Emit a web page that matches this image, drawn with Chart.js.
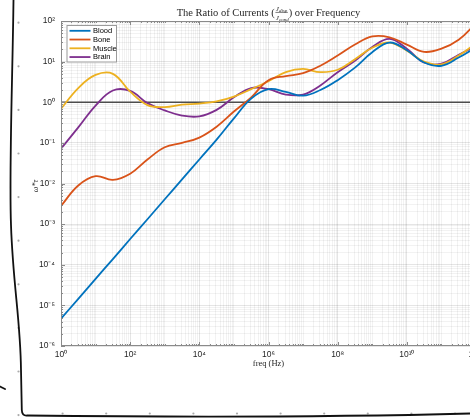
<!DOCTYPE html>
<html>
<head>
<meta charset="utf-8">
<script src="https://cdn.jsdelivr.net/npm/chart.js@4.4.1/dist/chart.umd.min.js"></script>
<style>
    html, body { margin: 0; padding: 0; background: #fff; overflow: hidden; }
    #wrap { width: 490px; height: 420px; }
</style>
</head>
<body>
<div id="wrap"><canvas id="ratioChart" width="490" height="420"></canvas></div>
<script>
// sample frequencies, half-decade steps (Hz)
const freqHz = [1, 3.16, 10, 31.6, 100, 316, 1e3, 3.16e3, 1e4, 3.16e4, 1e5, 3.16e5,
    1e6, 3.16e6, 1e7, 3.16e7, 1e8, 3.16e8, 1e9, 3.16e9, 1e10, 3.16e10, 1e11, 3.16e11, 1e12];

const blood = [4.7e-6, 1.45e-5, 4.5e-5, 1.38e-4, 4.3e-4, 1.32e-3, 4.1e-3, 0.0126, 0.039, 0.12, 0.40, 1.23,
    2.1, 1.8, 1.45, 2.0, 3.5, 7.1, 17, 29.5, 19, 9.5, 7.9, 12.6, 22.4];
const bone = [2.8e-3, 8.9e-3, 0.0151, 0.0123, 0.0174, 0.039, 0.078, 0.10, 0.135, 0.25, 0.59, 1.32,
    3.5, 4.4, 5.2, 7.9, 14.1, 26.3, 41.7, 39.8, 26.3, 17.4, 20.9, 34.7, 88];
const muscle = [0.69, 2.24, 4.7, 5.0, 1.82, 0.85, 0.76, 0.87, 0.93, 1.05, 1.38, 2.1,
    3.3, 5.5, 6.6, 5.5, 6.3, 11.5, 21.9, 29.5, 18.6, 10, 8.5, 14.1, 28.2];
const brain = [0.072, 0.24, 0.83, 1.95, 1.9, 0.95, 0.63, 0.47, 0.45, 0.65, 1.32, 2.24,
    2.1, 1.55, 1.55, 2.6, 5.5, 10.5, 22.9, 36.3, 20.9, 9.5, 8.9, 14.8, 24];

// reference line at ratio = 1
const unityFreq = [1, 1e12];
const unityLevel = [1, 1];

const seriesNames = ['Blood', 'Bone', 'Muscle', 'Brain'];
const seriesColors = ['#0072BD', '#D95319', '#EDB120', '#7E2F8E'];

const xDecades = [0, 1, 2, 3, 4, 5, 6, 7, 8, 9, 10, 11, 12];
const xLabelDecades = [0, 2, 4, 6, 8, 10, 12];
const yDecades = [-6, -5, -4, -3, -2, -1, 0, 1, 2];

const INK = '#262626';
const SUP = { '0': '⁰', '1': '¹', '2': '²', '3': '³', '4': '⁴', '5': '⁵', '6': '⁶', '7': '⁷', '8': '⁸', '9': '⁹', '-': '⁻' };
const sup = n => String(n).split('').map(c => SUP[c]).join('');

function logTicks(decades) {
    const out = [];
    decades.forEach((e, i) => {
        const last = i === decades.length - 1;
        for (let k = 1; k <= (last ? 1 : 9); k++) out.push({ value: k * Math.pow(10, e) });
    });
    return out;
}
const decadeOf = v => {
    const l = Math.log10(v);
    return Math.abs(l - Math.round(l)) < 1e-6 ? Math.round(l) : null;
};

const pts = arr => freqHz.map((f, i) => ({ x: f, y: arr[i] }));

const decor = {
    id: 'decor',
    beforeDraw(chart) {
        const ctx = chart.ctx;
        ctx.save();
        ctx.fillStyle = '#fff';
        ctx.fillRect(0, 0, chart.width, chart.height);

        // sketchy margin dots
        ctx.fillStyle = '#ababab';
        for (let k = 0; k < 10; k++) {
            ctx.beginPath(); ctx.arc(18.5, 22.7 + 43.6 * k, 1.1, 0, Math.PI * 2); ctx.fill();
        }
        for (let k = 1; k < 11; k++) {
            ctx.beginPath(); ctx.arc(19 + 43.6 * k, 413.5, 1.1, 0, Math.PI * 2); ctx.fill();
        }

        // hand drawn frame
        ctx.strokeStyle = '#111';
        ctx.lineWidth = 1.8;
        ctx.lineCap = 'round';
        ctx.lineJoin = 'round';
        ctx.beginPath();
        ctx.moveTo(13.5, 0);
        ctx.bezierCurveTo(12.5, 80, 9, 170, 11, 225);
        ctx.bezierCurveTo(13, 285, 20.5, 320, 21, 370);
        ctx.lineTo(21.8, 410);
        ctx.quadraticCurveTo(22, 416, 27, 415.5);
        ctx.bezierCurveTo(150, 417, 320, 417.5, 470, 413.5);
        ctx.stroke();
        ctx.beginPath();
        ctx.moveTo(0, 386.5);
        ctx.lineTo(5, 389);
        ctx.stroke();
        ctx.restore();
    },
    afterDraw(chart) {
        const ctx = chart.ctx;
        const a = chart.chartArea;
        const sx = chart.scales.x, sy = chart.scales.y;
        ctx.save();

        // axes box + inward ticks
        ctx.strokeStyle = '#8a8a8a';
        ctx.lineWidth = 1;
        ctx.strokeRect(a.left + 0.5, a.top + 0.5, a.right - a.left - 1, a.bottom - a.top - 1);
        ctx.beginPath();
        sx.ticks.forEach(t => {
            const d = decadeOf(t.value);
            const len = (d !== null && d % 2 === 0) ? 4 : 2;
            const px = Math.round(sx.getPixelForValue(t.value)) + 0.5;
            ctx.moveTo(px, a.bottom); ctx.lineTo(px, a.bottom - len);
            ctx.moveTo(px, a.top); ctx.lineTo(px, a.top + len);
        });
        sy.ticks.forEach(t => {
            const len = decadeOf(t.value) !== null ? 4 : 2;
            const py = Math.round(sy.getPixelForValue(t.value)) + 0.5;
            ctx.moveTo(a.left, py); ctx.lineTo(a.left + len, py);
            ctx.moveTo(a.right, py); ctx.lineTo(a.right - len, py);
        });
        ctx.stroke();

        // legend box
        const lx = 66.5, ly = 25, lw = 50.5, lh = 37.5;
        ctx.fillStyle = '#fff';
        ctx.fillRect(lx, ly, lw, lh);
        ctx.strokeStyle = '#9a9a9a';
        ctx.strokeRect(lx + 0.5, ly + 0.5, lw - 1, lh - 1);
        ctx.font = '7.5px "Liberation Sans", Arial, sans-serif';
        ctx.textBaseline = 'middle';
        ctx.textAlign = 'left';
        chart.data.datasets.slice(0, seriesNames.length).forEach((ds, i) => {
            const ry = 30.8 + i * 8.75;
            ctx.strokeStyle = ds.borderColor;
            ctx.lineWidth = 1.8;
            ctx.beginPath(); ctx.moveTo(69.5, ry); ctx.lineTo(90.5, ry); ctx.stroke();
            ctx.fillStyle = '#000';
            ctx.fillText(ds.label, 93, ry + 0.3);
        });

        // title with the J_disp / J_cond fraction
        const cx = (a.left + a.right) / 2;
        const base = 16;
        const big = '10.5px "Liberation Serif", "Times New Roman", serif';
        const left = 'The Ratio of Currents (';
        const right = ') over Frequency';
        ctx.fillStyle = INK;
        ctx.textBaseline = 'alphabetic';
        ctx.font = big;
        const wl = ctx.measureText(left).width;
        const wr = ctx.measureText(right).width;
        const fracW = 14;
        let x0 = cx - (wl + fracW + wr) / 2;
        ctx.fillText(left, x0, base);
        const drawJ = (txt, x, y) => {
            ctx.font = 'italic 7px "Liberation Serif", serif';
            ctx.fillText('J', x, y);
            const w = ctx.measureText('J').width;
            ctx.font = 'italic 5px "Liberation Serif", serif';
            ctx.fillText(txt, x + w, y + 1.6);
        };
        drawJ('disp', x0 + wl + 1.2, base - 5.4);
        drawJ('cond', x0 + wl + 1.2, base + 3.6);
        ctx.strokeStyle = INK;
        ctx.lineWidth = 0.6;
        ctx.beginPath(); ctx.moveTo(x0 + wl + 0.8, base - 3.6); ctx.lineTo(x0 + wl + fracW - 0.8, base - 3.6); ctx.stroke();
        ctx.font = big;
        ctx.fillText(right, x0 + wl + fracW, base);

        // axis titles
        ctx.textAlign = 'center';
        ctx.textBaseline = 'middle';
        ctx.font = '8.5px "Liberation Serif", serif';
        ctx.fillText('freq (Hz)', cx, 364);
        ctx.translate(36, 186);
        ctx.rotate(-Math.PI / 2);
        ctx.font = 'italic 8px "Liberation Serif", serif';
        ctx.fillText('ω*τ', 0, 0);
        ctx.restore();
    }
};

const gridColor = (ctx, everyDecade) => {
    const d = ctx.tick ? decadeOf(ctx.tick.value) : null;
    if (d !== null && (everyDecade || d % 2 === 0)) return 'rgba(0,0,0,0.1)';
    return 'rgba(0,0,0,0.05)';
};

const datasets = [blood, bone, muscle, brain].map((arr, i) => ({
    label: seriesNames[i],
    data: pts(arr),
    borderColor: seriesColors[i],
    borderWidth: 1.8,
    tension: 0.4,
    pointRadius: 0,
    fill: false
}));
datasets.push({
    label: 'unity',
    data: unityFreq.map((f, i) => ({ x: f, y: unityLevel[i] })),
    borderColor: '#4d4d4d',
    borderWidth: 1.4,
    pointRadius: 0,
    tension: 0
});

new Chart(document.getElementById('ratioChart'), {
    type: 'line',
    data: { datasets },
    options: {
        responsive: false,
        animation: false,
        devicePixelRatio: 1,
        layout: { padding: { top: 21, right: 14, bottom: 0, left: 0 } },
        plugins: {
            legend: { display: false },
            tooltip: { enabled: false }
        },
        scales: {
            x: {
                type: 'logarithmic',
                min: 1,
                max: 1e12,
                afterBuildTicks: s => { s.ticks = logTicks(xDecades); },
                afterFit: s => { s.height = 74; },
                border: { display: false },
                grid: { color: c => gridColor(c, false), drawTicks: false, lineWidth: 1 },
                ticks: {
                    autoSkip: false,
                    maxRotation: 0,
                    padding: 4,
                    color: INK,
                    font: { family: '"Liberation Sans", Arial, sans-serif', size: 8.5 },
                    callback: v => {
                        const d = decadeOf(v);
                        return d !== null && xLabelDecades.includes(d) ? '10' + sup(d) : '';
                    }
                }
            },
            y: {
                type: 'logarithmic',
                min: 1e-6,
                max: 1e2,
                afterBuildTicks: s => { s.ticks = logTicks(yDecades); },
                afterFit: s => { s.width = 61; },
                border: { display: false },
                grid: { color: c => gridColor(c, true), drawTicks: false, lineWidth: 1 },
                ticks: {
                    autoSkip: false,
                    padding: 6,
                    color: INK,
                    font: { family: '"Liberation Sans", Arial, sans-serif', size: 8.5 },
                    callback: v => {
                        const d = decadeOf(v);
                        return d !== null ? '10' + sup(d) : '';
                    }
                }
            }
        }
    },
    plugins: [decor]
});
</script>
</body>
</html>
